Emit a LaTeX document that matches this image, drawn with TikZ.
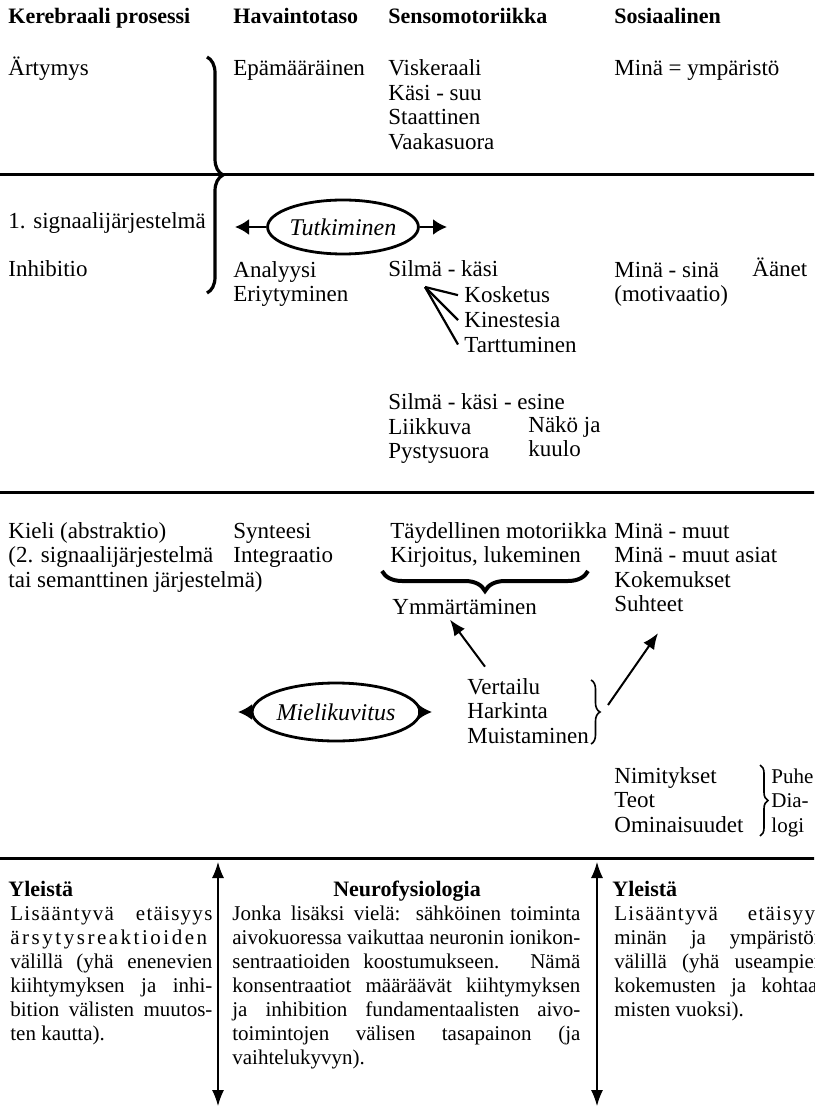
\documentclass[tikz,border=0pt]{standalone}
\usepackage{fontspec}
\setmainfont{Liberation Serif}
\usepackage{tikz}
\usetikzlibrary{shapes.geometric,arrows.meta,positioning,decorations.pathreplacing}
\newcommand{\fitline}[2]{\makebox[#1][s]{#2}}
\newcommand{\spaced}[2]{{\addfontfeatures{LetterSpace=#1}#2}}

\begin{document}
\begin{tikzpicture}[x=0.5pt, y=-0.5pt,
  entry/.style={anchor=base west, inner sep=0pt, align=left, font=\fontsize{11.5}{12.25}\selectfont},
  rows/.style={yshift=-#1*12.25pt},
  heading/.style={entry, font=\fontsize{11}{12.25}\selectfont\bfseries},
  column/.style={anchor=base west, inner sep=0pt, align=left, font=\fontsize{10.5}{12}\selectfont},
  colrows/.style={yshift=-#1*12pt},
  colhead/.style={column, font=\fontsize{11}{12}\selectfont\bfseries},
  oval/.style={ellipse, draw, line width=1.4pt, inner sep=0pt, minimum width=74pt, minimum height=27pt, font=\fontsize{12}{14}\selectfont\itshape},
  divider/.style={line width=1.5pt},
  arrow/.style={line width=1pt, -{Latex[length=8pt,width=6.5pt]}},
  ovalarrow/.style={line width=1.2pt, -{Latex[length=7pt,width=8pt]}},
  prong/.style={line width=1.1pt},
  twoway/.style={line width=0.6pt, {Latex[length=8pt,width=6pt]}-{Latex[length=8pt,width=6pt]}},
  curly/.style={decorate, decoration={brace, amplitude=#1}, line width=0.8pt},
  curly/.default=4pt]

\useasboundingbox (0,0) rectangle (814,1112);
\clip (0,0) rectangle (814,1112);

% Headers
\node[heading] (kereb) at (8,24) {Kerebraali prosessi};
\node[heading] (havain) at (233,24) {Havaintotaso};
\node[heading] (senso) at (388,24) {Sensomotoriikka};
\node[heading] (sosiaal) at (614,24) {Sosiaalinen};

% Level 1
\node[entry] (aert) at (8,76) {Ärtymys};
\node[entry] (epam) at (233,76) {Epämääräinen};
\node[entry, rows=3] (visk) at (388,76) {Viskeraali\\Käsi - suu\\Staattinen\\Vaakasuora};
\node[entry] (minaymp) at (614,76) {Minä = ympäristö};

\coordinate (r1a) at (-5,175);
\coordinate (r1b) at (820,175);
\draw[divider] (r1a) -- (r1b);
\draw[curly=8pt, line width=1.6pt] (207,57) -- (207,293);

% Level 2
\node[entry] (sig1) at (8,229) {1. signaalijärjestelmä};
\node[oval] (tut) at (343,227) {Tutkiminen};
\coordinate (tutL) at (235,227);
\coordinate (tutR) at (447,227);
\draw[ovalarrow] (tut) -- (tutL);
\draw[ovalarrow] (tut) -- (tutR);

\node[entry] (inhib) at (8,277) {Inhibitio};
\node[entry, rows=1] (anal) at (233,277) {Analyysi\\Eriytyminen};
\node[entry] (silka) at (388,277) {Silmä - käsi};
\node[entry, rows=1] (minasina) at (614,277) {Minä - sinä\\(motivaatio)};
\node[entry] (aanet) at (752,277) {Äänet};

\node[entry] (kosk) at (464,303) {Kosketus};
\node[entry, below=12.25pt of kosk.base west, anchor=base west] (kine) {Kinestesia};
\node[entry, below=12.25pt of kine.base west, anchor=base west] (tart) {Tarttuminen};
\coordinate (sk) at (425,287);
\draw[prong] ([xshift=-3]kosk.west) -- (sk);
\draw[prong] ([xshift=-3]kine.west) -- (sk);
\draw[prong] ([xshift=-3]tart.west) -- (sk);

\node[entry] (sesine) at (388,409) {Silmä - käsi - esine};
\node[entry, rows=1] (liik) at (388,434) {Liikkuva\\Pystysuora};
\node[entry, rows=1] (nako) at (528,432) {Näkö ja\\kuulo};

\coordinate (r2a) at (-5,492);
\coordinate (r2b) at (820,492);
\draw[divider] (r2a) -- (r2b);

% Level 3
\node[entry, rows=2] (kieli) at (8,538) {Kieli (abstraktio)\\(2. signaalijärjestelmä\\tai semanttinen järjestelmä)};
\node[entry, rows=1] (synt) at (233,538) {Synteesi\\Integraatio};
\node[entry, rows=1] (tayd) at (390,538) {Täydellinen motoriikka\\Kirjoitus, lukeminen};
\node[entry, rows=3] (minamuut) at (614,538) {Minä - muut\\Minä - muut asiat\\Kokemukset\\Suhteet};
\draw[curly=10pt, line width=2pt] (588,571) -- (382,571);
\node[entry] (ymm) at (392,614) {Ymmärtäminen};

\node[entry, rows=2] (vert) at (467,694) {Vertailu\\Harkinta\\Muistaminen};
\draw[curly=4.5pt] (591,680) -- (591,744);
\coordinate (vbr) at (600,712);
\draw[arrow] ([shift={(18,-11)}]vert.north west) -- ([shift={(58,5)}]ymm.south west);
\draw[arrow] ([shift={(8,-7)}]vbr) -- ([shift={(44,21)}]minamuut.south west);

\node[oval, minimum width=76pt, minimum height=29pt] (miel) at (336,712) {Mielikuvitus};
\coordinate (mielL) at (238,712);
\coordinate (mielR) at (432,712);
\draw[ovalarrow] (miel) -- (mielL);
\draw[ovalarrow] (miel) -- (mielR);

\node[entry, rows=2] (nimi) at (614,783) {Nimitykset\\Teot\\Ominaisuudet};
\draw[curly=4pt] (760,765) -- (760,836);
\node[entry, rows=2, font=\fontsize{10.5}{12.25}\selectfont] (puhe) at (771,783) {Puhe\\Dia-\\logi};

\coordinate (r3a) at (-5,858);
\coordinate (r3b) at (820,858);
\draw[divider] (r3a) -- (r3b);

% Bottom columns
\coordinate (upl) at (218,862);
\coordinate (dnl) at (218,1106);
\coordinate (upr) at (597,862);
\coordinate (dnr) at (597,1106);
\draw[twoway] (upl) -- (dnl);
\draw[twoway] (upr) -- (dnr);

\node[colhead] (genl) at (8,896) {Yleistä};
\node[column, colrows=5] (genlbody) at (10,920) {\fitline{101pt}{\spaced{6}{Lisääntyvä etäisyys}}\\
  \fitline{101pt}{\spaced{12}{ärsytysreaktioiden}}\\
  \fitline{101pt}{välillä (yhä enenevien}\\
  \fitline{101pt}{kiihtymyksen ja inhi-}\\
  \fitline{101pt}{bition välisten muutos-}\\
  ten kautta).};

\node[colhead, anchor=base] (neuro) at (407,896) {Neurofysiologia};
\node[column, colrows=6] (neurobody) at (232,920) {\fitline{174pt}{Jonka lisäksi vielä: sähköinen toiminta}\\
  \fitline{174pt}{aivokuoressa vaikuttaa neuronin ionikon-}\\
  \fitline{174pt}{sentraatioiden koostumukseen. Nämä}\\
  \fitline{174pt}{konsentraatiot määräävät kiihtymyksen}\\
  \fitline{174pt}{ja inhibition fundamentaalisten aivo-}\\
  \fitline{174pt}{toimintojen välisen tasapainon (ja}\\
  vaihtelukyvyn).};

\node[colhead] (genr) at (612,896) {Yleistä};
\node[column, colrows=4] (genrbody) at (614,920) {\fitline{105pt}{\spaced{6}{Lisääntyvä etäisyys}}\\
  \fitline{105pt}{minän ja ympäristön}\\
  \fitline{105pt}{välillä (yhä useampien}\\
  \fitline{105pt}{kokemusten ja kohtaa-}\\
  misten vuoksi).};

\end{tikzpicture}
\end{document}
